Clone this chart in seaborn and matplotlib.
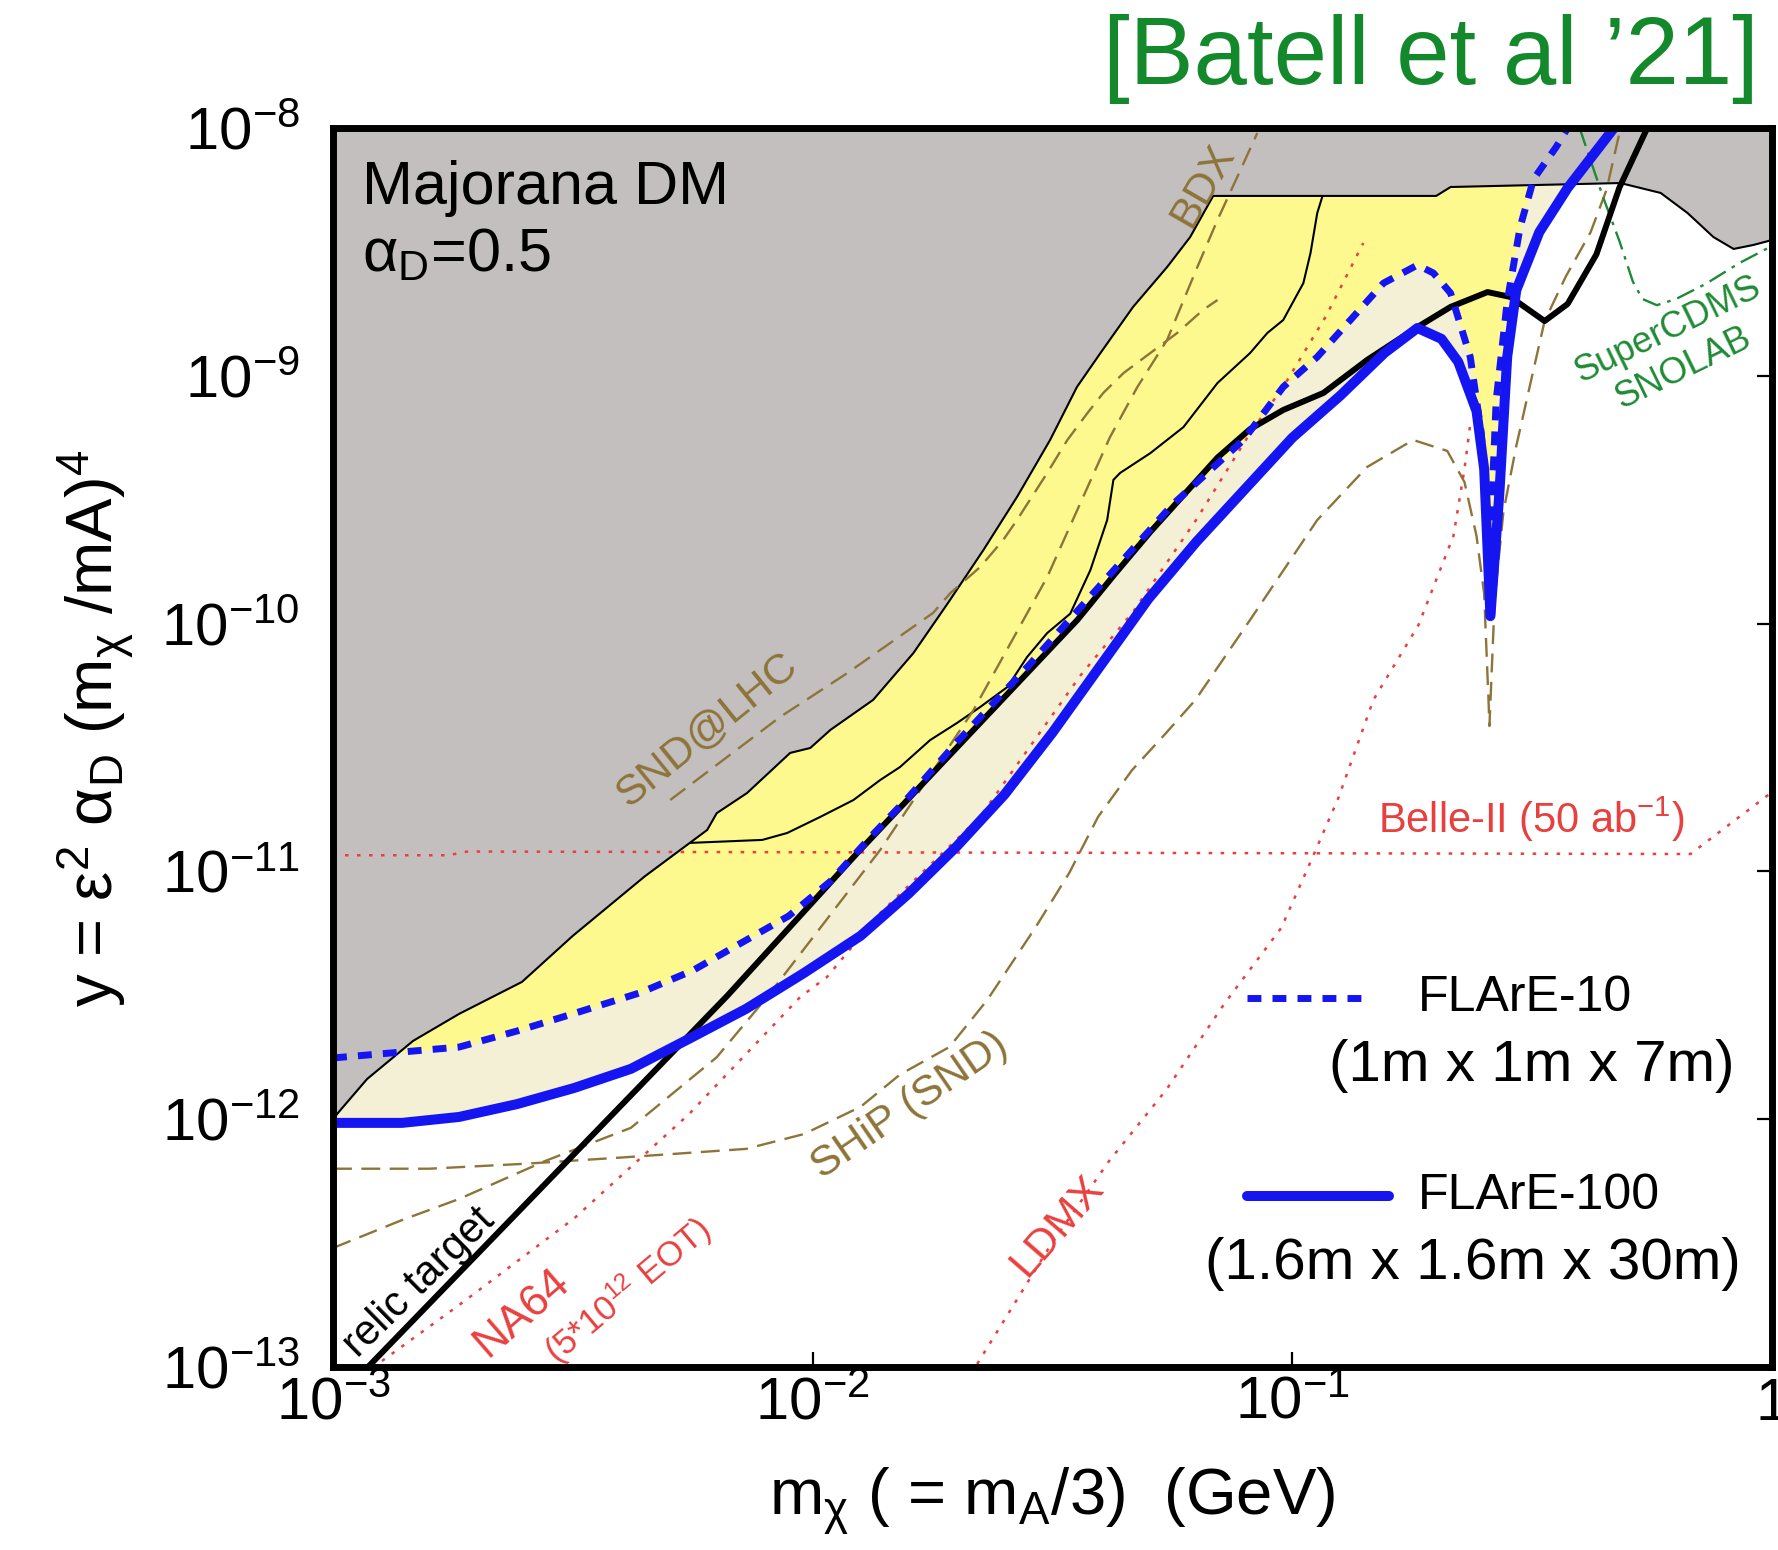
import numpy as np
import matplotlib
matplotlib.use("Agg")
import matplotlib.pyplot as plt
import seaborn as sns

# all curves as log10(m_chi / GeV), log10(y)

# upper excluded region (grey) boundary
gray_lx = [-3.0, -2.988, -2.929, -2.833, -2.737, -2.606, -2.5, -2.35, -2.22, -2.2, -2.137, -2.047, -2.005,
           -1.963, -1.874, -1.79, -1.719, -1.644, -1.574, -1.505, -1.449, -1.4, -1.332, -1.261, -1.213,
           -1.165, -0.70, -0.67, -0.316, -0.232, -0.176, -0.122, -0.08, -0.039, 0.0]
gray_ly = [-12.0, -11.971, -11.838, -11.684, -11.575, -11.446, -11.26, -11.02, -10.833, -10.765, -10.684,
           -10.522, -10.502, -10.429, -10.308, -10.119, -9.92, -9.703, -9.489, -9.259, -9.045, -8.908,
           -8.722, -8.561, -8.44, -8.274, -8.274, -8.238, -8.222, -8.262, -8.343, -8.44, -8.488, -8.472, -8.452]

# second existing bound (thin black line inside the yellow band)
thin_lx = [-2.255, -2.105, -2.053, -1.984, -1.915, -1.859, -1.818, -1.755, -1.699, -1.651, -1.594, -1.553,
           -1.511, -1.463, -1.421, -1.386, -1.373, -1.359, -1.296, -1.227, -1.156, -1.088, -1.052, -1.019,
           -0.977, -0.962, -0.948, -0.937]
thin_ly = [-10.885, -10.873, -10.845, -10.78, -10.712, -10.631, -10.579, -10.47, -10.401, -10.337, -10.256,
           -10.135, -10.038, -9.96, -9.784, -9.582, -9.42, -9.392, -9.312, -9.207, -9.029, -8.908, -8.827,
           -8.775, -8.626, -8.504, -8.343, -8.274]

# relic target
relic_lx = [-2.927, -2.178, -1.907, -1.448, -1.37, -1.296, -1.156, -1.088, -1.019, -0.935, -0.844, -0.739,
            -0.67, -0.593, -0.545, -0.474, -0.426, -0.366, -0.318, -0.26]
relic_ly = [-13.0, -11.502, -10.926, -9.985, -9.8, -9.63, -9.33, -9.215, -9.138, -9.069, -8.936, -8.803,
            -8.722, -8.662, -8.682, -8.779, -8.71, -8.51, -8.24, -8.0]

# FLArE-10 (dashed blue)
f10_lx = [-3.0, -2.856, -2.737, -2.616, -2.5, -2.36, -2.25, -2.15, -2.05, -1.963, -1.874, -1.8, -1.7,
          -1.55, -1.415, -1.25, -1.102, -1.019, -0.948, -0.879, -0.81, -0.739, -0.706, -0.67, -0.629,
          -0.606, -0.588, -0.575, -0.552, -0.525, -0.497, -0.45, -0.426]
f10_ly = [-11.753, -11.729, -11.709, -11.644, -11.575, -11.49, -11.40, -11.29, -11.18, -11.04, -10.85,
          -10.70, -10.48, -10.17, -9.877, -9.52, -9.259, -9.045, -8.924, -8.775, -8.626, -8.553, -8.585,
          -8.666, -8.924, -9.231, -9.7, -9.1, -8.7, -8.4, -8.206, -8.077, -8.0]

# FLArE-100 (solid blue)
f100_lx = [-3.0, -2.856, -2.737, -2.616, -2.497, -2.379, -2.258, -2.139, -2.018, -1.9, -1.8, -1.7, -1.6,
           -1.5, -1.4, -1.3, -1.2, -1.1, -1.0, -0.9, -0.808, -0.739, -0.689, -0.654, -0.616, -0.6, -0.587,
           -0.568, -0.552, -0.533, -0.485, -0.426, -0.331]
f100_ly = [-12.015, -12.015, -11.991, -11.939, -11.874, -11.797, -11.676, -11.555, -11.41, -11.26, -11.09,
           -10.9, -10.69, -10.44, -10.17, -9.9, -9.67, -9.46, -9.25, -9.08, -8.908, -8.807, -8.851, -8.944,
           -9.142, -9.376, -9.97, -9.465, -8.924, -8.654, -8.42, -8.242, -8.004]

# SHiP (SND)
ship_lx = [-3.0, -2.8, -2.6, -2.4, -2.139, -2.018, -1.9, -1.818, -1.715, -1.636, -1.536, -1.465, -1.405,
           -1.334, -1.263, -1.202, -1.088, -0.948, -0.844, -0.748, -0.677, -0.641, -0.616, -0.6, -0.591,
           -0.589, -0.578, -0.56, -0.533, -0.5, -0.474, -0.43, -0.378, -0.345, -0.318]
ship_ly = [-12.2, -12.2, -12.18, -12.155, -12.12, -12.06, -11.95, -11.82, -11.709, -11.519, -11.228,
           -11.006, -10.78, -10.591, -10.441, -10.308, -9.985, -9.582, -9.368, -9.259, -9.303, -9.429,
           -9.646, -9.88, -10.308, -10.413, -9.9, -9.55, -9.283, -9.0, -8.779, -8.6, -8.42, -8.25, -8.02]

# BDX
bdx_lx = [-3.0, -2.856, -2.737, -2.558, -2.379, -2.2, -2.095, -1.859, -1.665, -1.511, -1.38, -1.323,
          -1.261, -1.198, -1.156, -1.108, -1.073]
bdx_ly = [-12.52, -12.407, -12.322, -12.169, -12.035, -11.75, -11.507, -10.913, -10.35, -9.812, -9.247,
          -9.045, -8.855, -8.561, -8.371, -8.169, -8.02]

# SND@LHC
snd_lx = [-2.297, -2.068, -1.928, -1.749, -1.713, -1.651, -1.603, -1.574, -1.511, -1.469, -1.427, -1.394,
          -1.352, -1.296, -1.24, -1.186, -1.156]
snd_ly = [-10.712, -10.377, -10.2, -9.957, -9.877, -9.772, -9.663, -9.582, -9.392, -9.259, -9.15, -9.069,
          -8.989, -8.908, -8.827, -8.734, -8.694]

# NA64 (5*10^12 EOT)
na64_lx = [-2.898, -2.737, -2.497, -2.258, -2.026, -1.97, -1.86, -1.651, -1.442, -1.331, -1.2, -1.088,
           -1.019, -0.93, -0.852]
na64_ly = [-12.976, -12.75, -12.4, -11.98, -11.507, -11.426, -11.17, -10.78, -10.21, -9.95, -9.58, -9.231,
           -9.045, -8.76, -8.464]

# LDMX
ldmx_lx = [-1.657, -1.5, -1.382, -1.263, -1.142, -1.023, -0.963, -0.904, -0.831, -0.737, -0.664, -0.641,
           -0.629]
ldmx_ly = [-12.988, -12.496, -12.169, -11.882, -11.535, -11.228, -10.966, -10.704, -10.308, -10.006,
           -9.646, -9.376, -9.195]

# Belle-II (50 ab^-1)
belle_lx = [-3.0, -2.76, -2.72, -0.17, 0.0]
belle_ly = [-10.935, -10.935, -10.92, -10.93, -10.68]

# SuperCDMS SNOLAB
cdms_lx = [-0.401, -0.353, -0.318, -0.29, -0.27, -0.24, -0.2, -0.139, -0.068, 0.0]
cdms_ly = [-8.0, -8.274, -8.456, -8.62, -8.69, -8.715, -8.69, -8.63, -8.545, -8.476]

x_ticks = [1e-3, 1e-2, 1e-1, 1.0]
x_ticklabels = [r"$10^{-3}$", r"$10^{-2}$", r"$10^{-1}$", "1"]
y_ticks = [1e-13, 1e-12, 1e-11, 1e-10, 1e-9, 1e-8]
y_ticklabels = [r"$10^{-13}$", r"$10^{-12}$", r"$10^{-11}$", r"$10^{-10}$", r"$10^{-9}$", r"$10^{-8}$"]

GRAY = "#c3bfbf"
YELLOW = "#fdf98e"
CREAM = "#f3f0d6"
BLUE = "#1515f2"
BROWN = "#8d7439"
RED = "#e8403f"
GREEN = "#1f8a35"

sns.set_style("ticks")
plt.rcParams["font.family"] = ["Liberation Sans", "DejaVu Sans"]
plt.rcParams["mathtext.fontset"] = "custom"
plt.rcParams["mathtext.rm"] = "Liberation Sans"
plt.rcParams["mathtext.it"] = "Liberation Sans"
plt.rcParams["mathtext.default"] = "regular"
plt.rcParams["text.color"] = "black"
plt.rcParams["xtick.color"] = "black"
plt.rcParams["ytick.color"] = "black"

fig = plt.figure(figsize=(17.78, 15.5), dpi=100)
ax = fig.add_axes([0.1873, 0.1181, 0.8093, 0.7993])
ax.set_xscale("log")
ax.set_yscale("log")


def xy(lx, ly):
    return 10.0 ** np.array(lx), 10.0 ** np.array(ly)


def curve(lx, ly, **kw):
    x, y = xy(lx, ly)
    sns.lineplot(x=x, y=y, ax=ax, estimator=None, sort=False, **kw)


# filled regions: cream between the two FLArE curves, yellow above FLArE-10, grey on top
x, y = xy(f100_lx, f100_ly)
ax.fill_between(x, y, 1e-8, color=CREAM, lw=0, zorder=1)
x, y = xy(f10_lx, f10_ly)
ax.fill_between(x, y, 1e-8, color=YELLOW, lw=0, zorder=1.5)
x, y = xy(gray_lx, gray_ly)
ax.fill_between(x, y, 1e-8, color=GRAY, lw=0, zorder=2)

# existing bounds
curve(gray_lx, gray_ly, color="black", lw=1.5, zorder=3)
curve(thin_lx, thin_ly, color="black", lw=1.5, zorder=3)

# projections
brown_ls = (0, (8, 4))
curve(ship_lx, ship_ly, color=BROWN, lw=1.7, linestyle=brown_ls, zorder=4)
curve(bdx_lx, bdx_ly, color=BROWN, lw=1.7, linestyle=brown_ls, zorder=4)
curve(snd_lx, snd_ly, color=BROWN, lw=1.7, linestyle=brown_ls, zorder=4)

red_ls = (0, (1.4, 3.4))
curve(na64_lx, na64_ly, color=RED, lw=1.8, linestyle=red_ls, zorder=4)
curve(ldmx_lx, ldmx_ly, color=RED, lw=1.8, linestyle=red_ls, zorder=4)
curve(belle_lx, belle_ly, color=RED, lw=1.8, linestyle=red_ls, zorder=4)

curve(cdms_lx, cdms_ly, color=GREEN, lw=1.7, linestyle=(0, (8, 3, 1.5, 3)), zorder=4)

curve(relic_lx, relic_ly, color="black", lw=4.3, zorder=5)
curve(f100_lx, f100_ly, color=BLUE, lw=7.2, zorder=6)
curve(f10_lx, f10_ly, color=BLUE, lw=5, linestyle=(0, (2.0, 1.6)), zorder=7)

ax.set_xlim(1e-3, 1.0)
ax.set_ylim(1e-13, 1e-8)
ax.set_xticks(x_ticks)
ax.set_xticklabels(x_ticklabels)
ax.set_yticks(y_ticks)
ax.set_yticklabels(y_ticklabels)
ax.minorticks_off()
ax.tick_params(which="major", direction="in", length=11, width=1.6, top=True, right=True,
               labelsize=43, colors="black")
ax.tick_params(axis="x", pad=7)
ax.tick_params(axis="y", pad=24)
for sp in ax.spines.values():
    sp.set_linewidth(5)
    sp.set_color("black")
    sp.set_zorder(10)


# in-plot labels
def label(lx, ly, s, color, size, rot=0):
    ax.text(10.0 ** lx, 10.0 ** ly, s, color=color, fontsize=size, rotation=rot,
            ha="center", va="center", rotation_mode="anchor", zorder=8)


label(-1.186, -8.23, "BDX", BROWN, 31, 60)
label(-2.22, -10.43, "SND@LHC", BROWN, 31, 39)
label(-1.797, -11.947, "SHiP (SND)", BROWN, 31, 34.5)
label(-0.502, -10.79, r"Belle-II (50 ab$^{-1}$)", RED, 30)
label(-1.49, -12.43, "LDMX", RED, 31, 49)
label(-2.606, -12.782, "NA64", RED, 32, 41)
label(-2.385, -12.69, r"(5*10$^{12}$ EOT)", RED, 25, 40)
label(-2.821, -12.661, "relic target", "black", 30, 44.5)
label(-0.218, -8.815, "SuperCDMS", GREEN, 26, 26)
label(-0.185, -8.969, "SNOLAB", GREEN, 26, 26)

ax.text(0.020, 0.9387, "Majorana DM", transform=ax.transAxes, fontsize=44, va="baseline",
        color="black", zorder=8)
ax.text(0.020, 0.884, r"α$_D$=0.5", transform=ax.transAxes, fontsize=44, va="baseline",
        color="black", zorder=8)

# legend drawn by hand to copy the two-line layout
ax.plot([0.635, 0.722], [0.298, 0.298], transform=ax.transAxes, color=BLUE, lw=5,
        linestyle=(0, (2.0, 1.6)), zorder=9)
ax.text(0.754, 0.298, "FLArE-10", transform=ax.transAxes, fontsize=36, va="center", zorder=9)
ax.text(0.974, 0.243, "(1m x 1m x 7m)", transform=ax.transAxes, fontsize=42, va="center", ha="right",
        zorder=9)
ax.plot([0.635, 0.734], [0.138, 0.138], transform=ax.transAxes, color=BLUE, lw=7.2, zorder=9)
ax.text(0.754, 0.138, "FLArE-100", transform=ax.transAxes, fontsize=36, va="center", zorder=9)
ax.text(0.978, 0.083, "(1.6m x 1.6m x 30m)", transform=ax.transAxes, fontsize=42, va="center",
        ha="right", zorder=9)

fig.text(0.054, 0.530, r"y = ε$^2$ α$_D$ (m$_\chi$ /mA)$^4$", rotation=90, fontsize=47,
         ha="center", va="center")
fig.text(0.592, 0.031, r"m$_\chi$ ( = m$_A$/3)  (GeV)", fontsize=47, ha="center", va="center")
fig.text(0.989, 0.962, "[Batell et al ’21]", color="#13892c", fontsize=69, ha="right", va="center")

fig.savefig("out.png", dpi=100)
